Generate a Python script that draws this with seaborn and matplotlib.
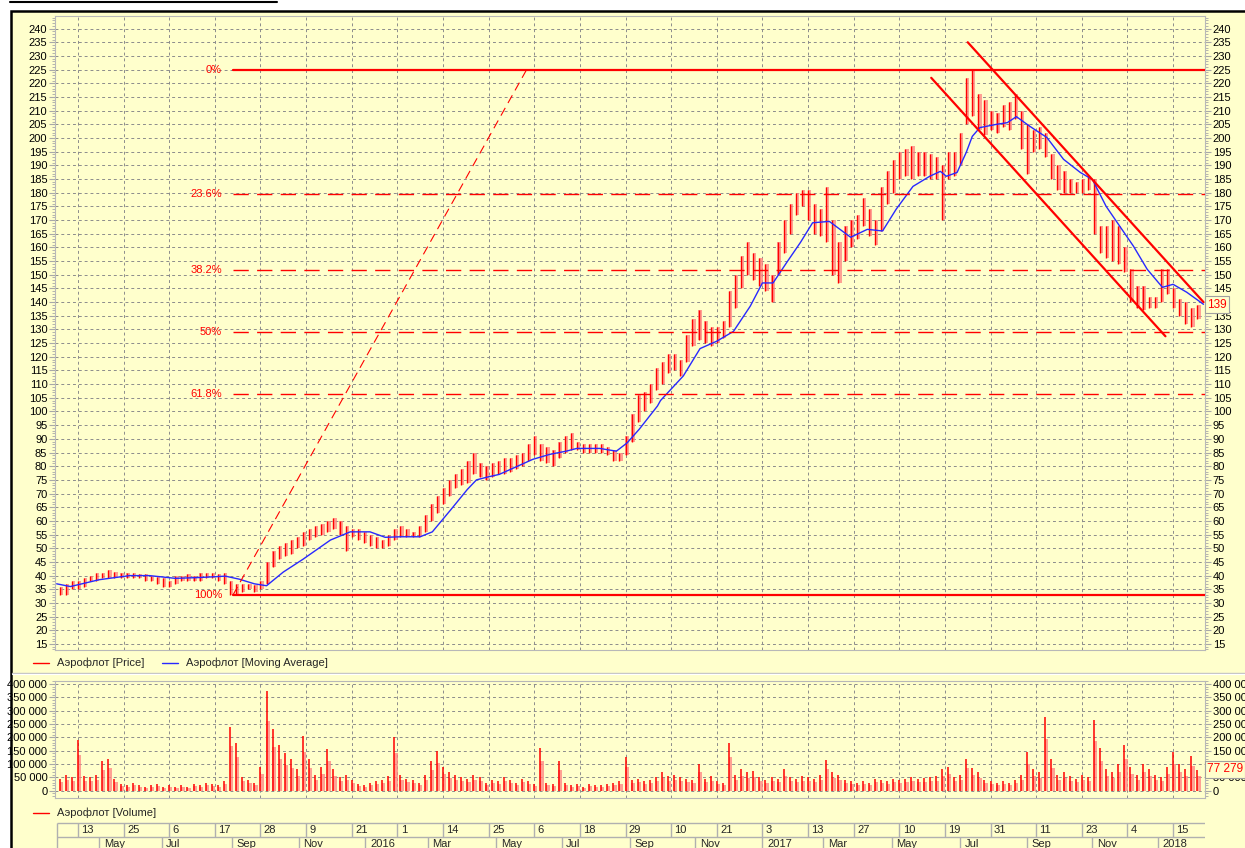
import matplotlib
matplotlib.use("Agg")
import matplotlib.pyplot as plt
from matplotlib.lines import Line2D
from matplotlib.patches import Rectangle
from matplotlib.ticker import MultipleLocator, FuncFormatter
import numpy as np
import seaborn as sns

sns.set_style("ticks")
plt.rcParams["font.family"] = ["Liberation Sans", "DejaVu Sans"]

# ---------------------------------------------------------------------------
# Data (Aeroflot daily, sampled every 4 sessions, bar index 0 = late Mar 2015)
# ---------------------------------------------------------------------------
SAMPLE_STEP = 4

price_low = [
    33, 33, 35, 35, 36, 38, 38, 39, 39, 39,
    39, 39, 39, 39, 38, 38, 37, 36, 36, 37,
    38, 38, 38, 38, 39, 39, 38, 37, 33, 33,
    34, 35, 34, 35, 37, 43, 46, 47, 48, 50,
    51, 53, 54, 55, 56, 57, 55, 49, 54, 53,
    52, 51, 50, 50, 51, 53, 54, 54, 54, 54,
    56, 60, 63, 66, 69, 72, 73, 74, 77, 76,
    75, 76, 77, 77, 78, 79, 80, 82, 84, 82,
    81, 80, 83, 85, 86, 86, 85, 85, 85, 85,
    84, 82, 82, 84, 89, 96, 100, 103, 108, 110,
    114, 115, 113, 118, 124, 126, 125, 124, 125, 127,
    131, 138, 145, 150, 148, 146, 144, 140, 150, 158,
    165, 172, 175, 170, 165, 164, 162, 150, 147, 155,
    160, 163, 168, 164, 161, 166, 176, 180, 185, 186,
    185, 186, 186, 185, 185, 170, 185, 186, 190, 205,
    208, 203, 201, 203, 202, 204, 203, 207, 196, 187,
    195, 196, 193, 185, 181, 180, 180, 180, 180, 181,
    165, 158, 156, 155, 154, 151, 140, 138, 137, 138,
    138, 140, 143, 138, 135, 132, 131, 134,
]

price_high = [
    36, 37, 38, 38, 39, 40, 41, 41, 42, 41.5,
    41, 41, 41, 40.5, 40.5, 40, 39.5, 39, 38, 40,
    40, 40.5, 40, 41, 41, 41, 40.5, 41, 38, 37,
    37, 37, 36.5, 38, 45, 49, 51, 52, 53, 54,
    56, 57, 58, 59, 60, 61, 60, 58, 57, 57,
    56, 55, 54, 53, 55, 57, 58, 57, 56, 58,
    62, 66, 69, 72, 75, 77, 79, 82, 85, 81,
    80, 81, 82, 83, 83, 84, 85, 88, 91, 88,
    87, 86, 89, 91, 92, 89, 88, 88, 88, 88,
    87, 86, 85, 91, 99, 106, 107, 110, 116, 118,
    121, 121, 119, 128, 134, 137, 133, 131, 131, 133,
    144, 150, 157, 162, 158, 156, 154, 150, 162, 170,
    176, 180, 181, 181, 176, 174, 182, 170, 162, 168,
    170, 172, 178, 174, 170, 182, 188, 192, 195, 196,
    197, 195, 195, 194, 193, 190, 195, 195, 202, 222,
    225, 216, 214, 210, 209, 212, 213, 216, 210, 205,
    203, 204, 202, 194, 190, 188, 185, 184, 185, 186,
    185, 168, 168, 170, 168, 160, 152, 146, 146, 142,
    142, 152, 152, 145, 141, 140, 138, 139,
]

# volume, thousands of shares
volume_k = [
    45, 60, 50, 190, 55, 50, 60, 113, 120, 45,
    25, 20, 30, 20, 15, 20, 25, 15, 20, 15,
    20, 15, 25, 20, 30, 25, 20, 35, 240, 180,
    50, 40, 30, 90, 372, 232, 170, 140, 120, 80,
    205, 120, 60, 90, 158, 80, 50, 60, 40, 25,
    20, 30, 35, 40, 55, 203, 60, 45, 40, 30,
    60, 110, 150, 90, 70, 60, 50, 45, 60, 50,
    30, 40, 35, 50, 40, 30, 45, 35, 25, 160,
    30, 25, 110, 30, 20, 25, 15, 25, 20, 20,
    25, 30, 35, 126, 40, 45, 35, 40, 50, 70,
    55, 60, 50, 45, 40, 100, 45, 55, 35, 30,
    180, 60, 80, 70, 75, 50, 40, 50, 45, 80,
    50, 45, 55, 50, 45, 60, 115, 70, 60, 40,
    35, 30, 35, 30, 45, 40, 35, 45, 40, 45,
    50, 45, 48, 50, 55, 80, 90, 50, 60, 120,
    85, 70, 40, 35, 30, 35, 30, 40, 60, 145,
    80, 70, 275, 120, 60, 70, 55, 45, 60, 50,
    265, 160, 80, 70, 100, 170, 90, 60, 100, 80,
    60, 50, 90, 145, 100, 80, 130, 77,
]

# moving average (bar index, value)
ma_idx = [0, 9, 28, 48, 61, 78, 94, 111, 120, 130, 138, 149, 162, 180,
          193, 206, 216, 226, 239, 247, 259, 270, 276, 283, 291, 303, 313,
          324, 335, 342, 357, 368, 375, 383, 395, 397, 412, 423, 434, 445,
          456, 464, 471, 480, 489, 497, 508, 515, 522, 533, 543, 552, 563,
          574, 581, 585, 592, 598, 602, 607, 618, 625, 631, 640, 651, 662,
          673, 681, 690, 699, 708, 717, 727, 734, 743, 754]
ma_val = [37, 36, 38.5, 40, 40, 39, 39.3, 39.8, 38.7, 37, 36.3, 41.3, 46, 53,
          56, 56, 54, 54.2, 54.2, 56, 64, 71.5, 75, 76, 77, 80, 82.5,
          84.3, 85.5, 86.5, 86.5, 85.5, 88.5, 93.5, 102, 104, 113, 123, 125.7, 129.3,
          138.5, 147, 147, 154.5, 161.8, 169, 169.5, 166.6, 163.7, 166.6, 166, 174, 182.3,
          186, 187.8, 186, 187.4, 194.7, 200.6, 203.8, 205, 205.6, 207.8, 204.2, 200.2, 192.2,
          187.4, 184.8, 175, 167.7, 160.4, 152, 145.4, 146.5, 143.6, 139.2]

day_tick_idx = [14, 44, 74, 104, 134, 164, 194, 224, 254, 284, 314, 344, 374,
                404, 434, 464, 494, 524, 554, 584, 614, 644, 674, 704, 734]
day_tick_labels = ["13", "25", "6", "17", "28", "9", "21", "1", "14", "25", "6",
                   "18", "29", "10", "21", "3", "13", "27", "10", "19", "31",
                   "11", "23", "4", "15"]
month_idx = [28, 69, 115, 159, 203, 244, 289, 332, 377, 420, 464, 504, 549,
             594, 638, 681, 724]
month_labels = ["May", "Jul", "Sep", "Nov", "2016", "Mar", "May", "Jul", "Sep",
                "Nov", "2017", "Mar", "May", "Jul", "Sep", "Nov", "2018"]

# Fibonacci retracement between 33 (100%) and 225 (0%)
fib_levels = [225, 179.7, 151.7, 129.0, 106.3, 33.0]
fib_labels = ["0%", "23.6%", "38.2%", "50%", "61.8%", "100%"]
fib_start = 116
trend_x = [116, 309]
trend_y = [33, 225]
chan_upper_x = [599, 754]
chan_upper_y = [235, 140]
chan_lower_x = [575, 729]
chan_lower_y = [222, 127.5]

last_price = "139"
last_volume = "77 279"

# ---------------------------------------------------------------------------
W, H = 1245, 848
BG = "#FFFFCC"
GRID = "#8C8C8C"
RED = "#FF0000"
PINK = "#FF8080"
XMIN, XMAX = -1.1, 755


def fx(px):
    return px / W


def fy(py):
    return 1 - py / H


def style_axis(ax):
    ax.set_facecolor(BG)
    ax.set_xlim(XMIN, XMAX)
    ax.set_xticks(day_tick_idx)
    ax.tick_params(axis="x", length=0, labelbottom=False)
    ax.tick_params(axis="y", which="both", left=True, right=True,
                   labelleft=True, labelright=True, labelsize=8, pad=1.5,
                   color="#A8A8A8", labelcolor="black")
    ax.tick_params(axis="y", which="major", length=4)
    ax.tick_params(axis="y", which="minor", length=2)
    ax.grid(True, which="major", color=GRID, lw=0.7, ls=(0, (3, 3)))
    for sp in ax.spines.values():
        sp.set_color("#B8B8B8")
        sp.set_linewidth(0.8)


fig = plt.figure(figsize=(W / 100, H / 100), dpi=100, facecolor="white")

# outer yellow frame with black top/left border (behind the axes)
fig.patches.append(Rectangle((fx(11), -0.1), 1.2, fy(11) + 0.1,
                             transform=fig.transFigure, facecolor=BG,
                             edgecolor="black", lw=1.8, zorder=-5))
fig.add_artist(Line2D([fx(10), fx(277)], [fy(1.5), fy(1.5)], color="black", lw=1.5))

slot = np.arange(len(price_low)) * SAMPLE_STEP + 2
low = np.array(price_low)
high = np.array(price_high)

# ------------------------------ price panel --------------------------------
ax_p = fig.add_axes([fx(55), fy(650), fx(1205) - fx(55), fy(16) - fy(650)])
style_axis(ax_p)
ax_p.set_ylim(12.8, 244.6)
ax_p.set_yticks(np.arange(15, 241, 5))
ax_p.yaxis.set_minor_locator(MultipleLocator(1))

ax_p.bar(slot + 1, high - low, bottom=low, width=2.2, color=PINK, alpha=0.75,
         lw=0, zorder=2)
ax_p.vlines(slot, low, high, color=RED, lw=1.0, zorder=3)
sns.lineplot(x=ma_idx, y=ma_val, ax=ax_p, color="#2828FF", lw=1.0, zorder=4)

for lvl, lab in zip(fib_levels, fib_labels):
    solid = lab in ("0%", "100%")
    ax_p.plot([fib_start, XMAX], [lvl, lvl], color=RED,
              lw=1.6 if solid else 1.0,
              ls="-" if solid else (0, (11, 6)), zorder=5)
    ax_p.text(108.7, lvl, lab, color=RED, fontsize=8, ha="right", va="center")

ax_p.plot(trend_x, trend_y, color=RED, lw=0.8, ls=(0, (8, 5)), zorder=5)
ax_p.plot(chan_upper_x, chan_upper_y, color=RED, lw=1.6, zorder=5)
ax_p.plot(chan_lower_x, chan_lower_y, color=RED, lw=1.6, zorder=5)

# hide the right label under the last-price box
for loc, tick in zip(ax_p.get_yticks(), ax_p.yaxis.get_major_ticks()):
    if abs(loc - 140) < 1e-6:
        tick.label2.set_visible(False)

# ------------------------------ volume panel -------------------------------
ax_v = fig.add_axes([fx(55), fy(798), fx(1205) - fx(55), fy(681) - fy(798)])
style_axis(ax_v)
ax_v.set_ylim(-27000, 411000)
ax_v.yaxis.set_major_locator(MultipleLocator(50000))
ax_v.yaxis.set_minor_locator(MultipleLocator(10000))
ax_v.yaxis.set_major_formatter(
    FuncFormatter(lambda v, p: f"{int(round(v)):,}".replace(",", " ")))
vol = np.array(volume_k) * 1000
ax_v.bar(slot + 1, vol * 0.7, width=2.2, color=PINK, alpha=0.75, lw=0, zorder=2)
ax_v.vlines(slot, 0, vol, color=RED, lw=1.1, zorder=3)

# hide the right label fully covered by the last-volume box
for loc, tick in zip(ax_v.get_yticks(), ax_v.yaxis.get_major_ticks()):
    if abs(loc - 100000) < 1:
        tick.label2.set_visible(False)

# ------------------------------ date axis ----------------------------------
ax_d = fig.add_axes([fx(55), 0, fx(1205) - fx(55), fy(822)])
ax_d.set_xlim(XMIN, XMAX)
ax_d.set_ylim(26, 0)
ax_d.axis("off")
LINE = "#B0B0B0"
ax_d.hlines([0.5, 15], 0.2, XMAX, color=LINE, lw=1)
ax_d.vlines([0.2], 0.5, 26, color=LINE, lw=1)
ax_d.vlines(day_tick_idx, 0.5, 15, color=LINE, lw=1)
ax_d.vlines(month_idx, 15, 26, color=LINE, lw=1)
for i, lab in zip(day_tick_idx, day_tick_labels):
    ax_d.text(i + 2.2, 8, lab, fontsize=8, ha="left", va="center")
for i, lab in zip(month_idx, month_labels):
    ax_d.text(i + 3.0, 17, lab, fontsize=8, ha="left", va="top")

# ------------------------------ legends & separators -----------------------
fig.add_artist(Line2D([fx(12), 1], [fy(673), fy(673)], color="#C4C4C4", lw=1))
fig.add_artist(Line2D([fx(12), 1], [fy(674.2), fy(674.2)], color="white", lw=0.8))

fig.add_artist(Line2D([fx(33), fx(49)], [fy(663), fy(663)], color=RED, lw=1))
fig.text(fx(57), fy(663), "Аэрофлот [Price]", fontsize=8, va="center")
fig.add_artist(Line2D([fx(162), fx(178)], [fy(663), fy(663)], color="#2828FF", lw=1))
fig.text(fx(186), fy(663), "Аэрофлот [Moving Average]", fontsize=8, va="center")

fig.add_artist(Line2D([fx(33), fx(49)], [fy(813), fy(813)], color=RED, lw=1))
fig.text(fx(57), fy(813), "Аэрофлот [Volume]", fontsize=8, va="center")

# last value boxes on the right scale
box = dict(boxstyle="square,pad=0.18", facecolor=BG, edgecolor="#A0A0A0", lw=0.8)
fig.text(fx(1207), fy(304.5), last_price, color=RED, fontsize=8.5, va="center",
         bbox=box, zorder=10)
fig.text(fx(1207), fy(769.5), last_volume, color=RED, fontsize=8.5, va="center",
         bbox=box, zorder=10)

fig.savefig("out.png", dpi=100, facecolor="white")
